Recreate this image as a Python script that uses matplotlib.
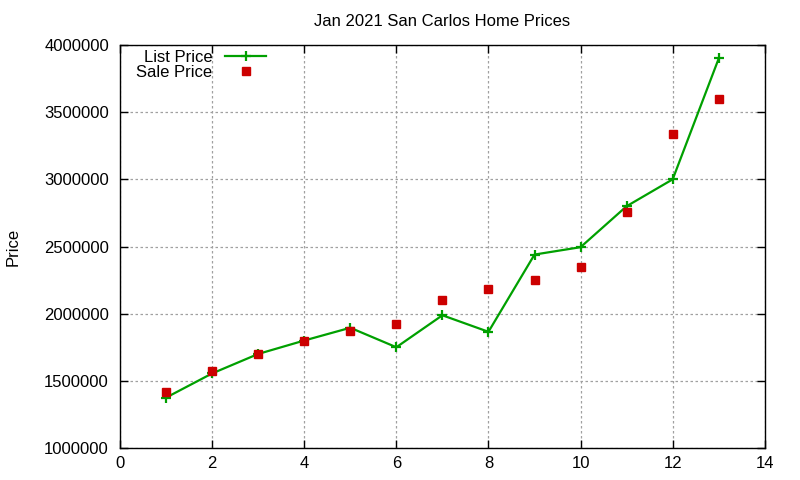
import matplotlib
matplotlib.use("Agg")
import matplotlib.pyplot as plt

x = [1, 2, 3, 4, 5, 6, 7, 8, 9, 10, 11, 12, 13]
list_price = [1375000, 1555000, 1700000, 1800000, 1895000, 1750000, 1988000,
              1865000, 2440000, 2495000, 2800000, 3000000, 3900000]
sale_price = [1415000, 1575000, 1700000, 1800000, 1870000, 1925000, 2100000,
              2180000, 2250000, 2350000, 2760000, 3340000, 3600000]
title = "Jan 2021 San Carlos Home Prices"
ylabel = "Price"

plt.rcParams['font.family'] = ['Liberation Sans', 'DejaVu Sans']
plt.rcParams['font.size'] = 12

fig = plt.figure(figsize=(8, 4.8), dpi=100)
ax = fig.add_axes([0.15, 0.0667, 0.806, 0.8395])

ax.plot(x, list_price, color='#00a000', lw=1.6, marker='+', markersize=7,
        markeredgewidth=1.6, label='List Price')
ax.plot(x, sale_price, linestyle='none', color='#cc0000', marker='s',
        markersize=6, label='Sale Price')

ax.set_xlim(0, 14)
ax.set_ylim(1000000, 4000000)
ax.set_xticks(range(0, 15, 2))
ax.set_yticks(range(1000000, 4000001, 500000))
ax.ticklabel_format(style='plain', axis='y', useOffset=False)
ax.grid(True, color='#a0a0a0', linestyle=(0, (2, 2)), linewidth=0.9)
ax.tick_params(direction='in', top=True, right=True, length=6, width=1, pad=8)
ax.tick_params(axis='x', pad=6)
for s in ax.spines.values():
    s.set_linewidth(1.0)

ax.set_title(title, fontsize=12, pad=14)
fig.text(0.016, 0.485, ylabel, rotation=90, va='center', ha='center', fontsize=12)

leg = ax.legend(loc='upper left', bbox_to_anchor=(0.025, 0.988), markerfirst=False,
                frameon=False, handlelength=2.5, handletextpad=0.75,
                labelspacing=0.0, borderaxespad=0.0, borderpad=0.0)
for t in leg.get_texts():
    t.set_ha('right')

fig.savefig('out.png', dpi=100)
